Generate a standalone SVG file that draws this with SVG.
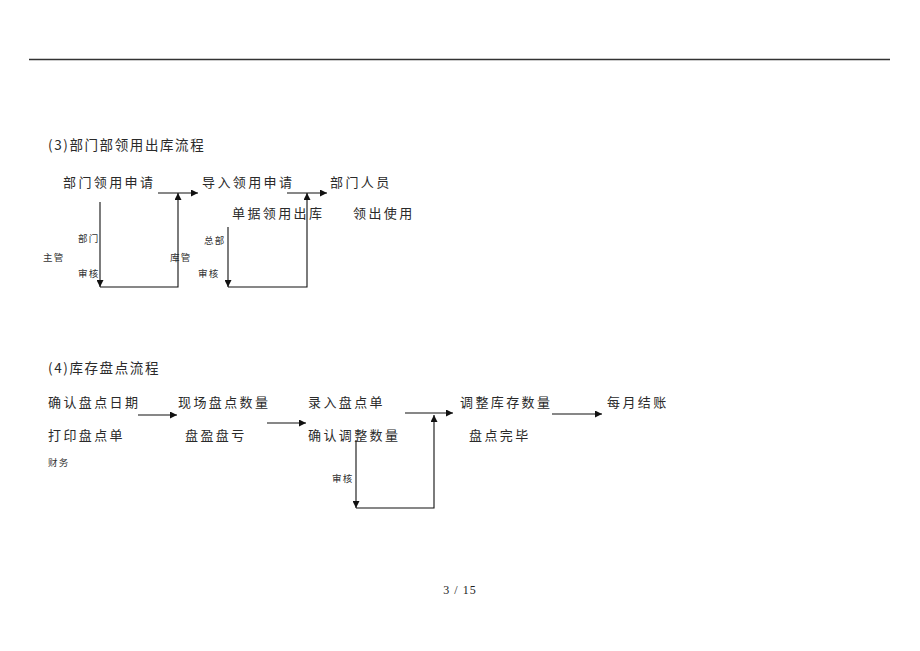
<svg xmlns="http://www.w3.org/2000/svg" width="920" height="651" viewBox="0 0 920 651">
<style>
.t{font-family:"Noto Sans CJK SC","Noto Sans",sans-serif;font-size:13px;letter-spacing:2.4px;fill:#2a2a2a}
.h{font-family:"Noto Sans CJK SC","Noto Sans",sans-serif;font-size:13.5px;letter-spacing:1.6px;fill:#2a2a2a}
.s{font-family:"Noto Sans CJK SC","Noto Sans",sans-serif;font-size:9.5px;letter-spacing:1.2px;fill:#333}
.c{fill:none;stroke:#111;stroke-width:1.1}
</style>
<defs>
<marker id="ah" viewBox="0 0 10 10" refX="10" refY="5" markerWidth="7" markerHeight="7" markerUnits="userSpaceOnUse" orient="auto">
<path d="M0,0 L10,5 L0,10 z" fill="#111"/>
</marker>
</defs>
<rect width="920" height="651" fill="#fff"/>
<line x1="29" y1="59.5" x2="890" y2="59.5" stroke="#333" stroke-width="1.3"/>

<g id="title3"><text class="h" x="48" y="150">(3)部门部领用出库流程</text></g>
<g id="n_bmlysq"><text class="t" x="63" y="187">部门领用申请</text></g>
<g id="n_drlysq"><text class="t" x="202" y="187">导入领用申请</text></g>
<g id="n_djlyck"><text class="t" x="232" y="218">单据领用出库</text></g>
<g id="n_bmry"><text class="t" x="330" y="187">部门人员</text></g>
<g id="n_lcsy"><text class="t" x="353" y="218">领出使用</text></g>
<g id="l_bm"><text class="s" x="78" y="242">部门</text></g>
<g id="l_zg"><text class="s" x="43" y="261">主管</text></g>
<g id="l_sh1"><text class="s" x="78" y="277">审核</text></g>
<g id="l_kg"><text class="s" x="170" y="261">库管</text></g>
<g id="l_zb"><text class="s" x="204" y="244">总部</text></g>
<g id="l_sh2"><text class="s" x="198" y="277">审核</text></g>

<g id="title4"><text class="h" x="48" y="373">(4)库存盘点流程</text></g>
<g id="n_qrpdrq"><text class="t" x="48" y="407">确认盘点日期</text></g>
<g id="n_dypdd"><text class="t" x="48" y="440">打印盘点单</text></g>
<g id="l_cw"><text class="s" x="48" y="466">财务</text></g>
<g id="n_xcpdsl"><text class="t" x="178" y="407">现场盘点数量</text></g>
<g id="n_pypk"><text class="t" x="185" y="440">盘盈盘亏</text></g>
<g id="n_lrpdd"><text class="t" x="308" y="407">录入盘点单</text></g>
<g id="n_qrtzsl"><text class="t" x="308" y="440">确认调整数量</text></g>
<g id="l_sh3"><text class="s" x="332" y="482">审核</text></g>
<g id="n_tzkcsl"><text class="t" x="460" y="407">调整库存数量</text></g>
<g id="n_pdwb"><text class="t" x="469" y="440">盘点完毕</text></g>
<g id="n_myjz"><text class="t" x="607" y="407">每月结账</text></g>

<g id="connectors">
<path class="c" d="M100,202 V287" marker-end="url(#ah)"/>
<path class="c" d="M100,287 H178 V193" marker-end="url(#ah)"/>
<path class="c" d="M158,193 H198" marker-end="url(#ah)"/>
<path class="c" d="M228,227 V287" marker-end="url(#ah)"/>
<path class="c" d="M228,287 H307 V193" marker-end="url(#ah)"/>
<path class="c" d="M287,193 H327" marker-end="url(#ah)"/>

<path class="c" d="M138,415 H177" marker-end="url(#ah)"/>
<path class="c" d="M267,423 H306" marker-end="url(#ah)"/>
<path class="c" d="M356,440 V508" marker-end="url(#ah)"/>
<path class="c" d="M356,508 H434 V415" marker-end="url(#ah)"/>
<path class="c" d="M405,413 H453" marker-end="url(#ah)"/>
<path class="c" d="M552,414 H602" marker-end="url(#ah)"/>
</g>

<text x="460" y="594" text-anchor="middle" font-family="Liberation Serif, serif" font-size="12" letter-spacing="1" fill="#222">3 / 15</text>
</svg>
